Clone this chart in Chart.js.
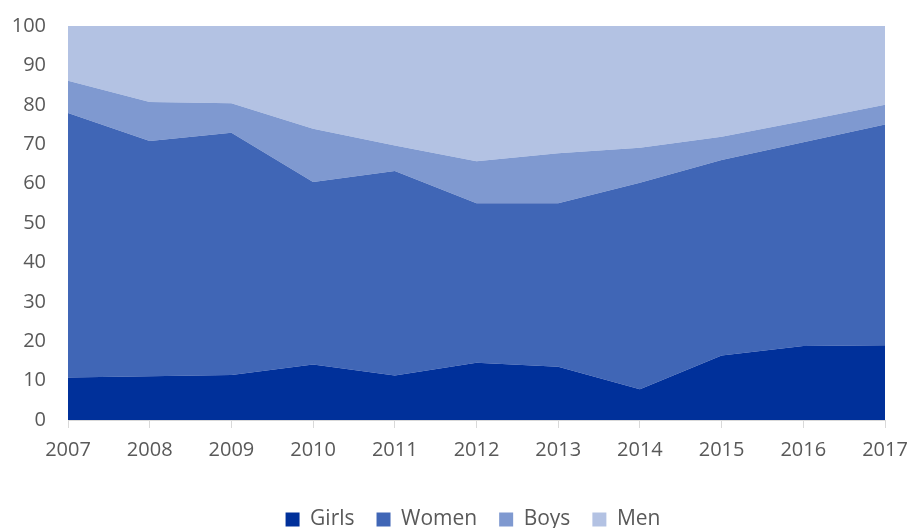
<!DOCTYPE html>
<html>
<head>
<meta charset="utf-8">
<script src="https://cdn.jsdelivr.net/npm/chart.js@4.4.0/dist/chart.umd.min.js"></script>
<style>
  html, body { margin: 0; padding: 0; background: #fff; overflow: hidden; }
  #wrap { width: 912px; height: 540px; }
</style>
</head>
<body>
<div id="wrap"><canvas id="areaChart" width="912" height="540"></canvas></div>
<script>
var years = ['2007', '2008', '2009', '2010', '2011', '2012', '2013', '2014', '2015', '2016', '2017'];
var girls = [10.8, 11.1, 11.4, 14.1, 11.3, 14.5, 13.5, 7.8, 16.4, 18.8, 19.0];
var women = [67.1, 59.7, 61.5, 46.3, 51.9, 40.5, 41.5, 52.4, 49.6, 51.7, 56.0];
var boys = [8.2, 9.9, 7.5, 13.5, 6.5, 10.7, 12.7, 8.9, 5.9, 5.4, 5.0];
var men = [13.9, 19.3, 19.6, 26.1, 30.3, 34.3, 32.3, 30.9, 28.1, 24.1, 20.0];

var textColor = '#595959';
var font = { family: '"Open Sans", sans-serif', size: 20 };

function area(label, data, color, fill) {
  return {
    label: label,
    data: data,
    backgroundColor: color,
    borderColor: color,
    borderWidth: 0,
    pointRadius: 0,
    tension: 0,
    fill: fill
  };
}

// legend sits a little right of centre in the original
var shiftLegend = {
  id: 'shiftLegend',
  afterLayout: function (chart) {
    chart.legend.left += 24;
    chart.legend.right += 24;
  }
};

var ctx = document.getElementById('areaChart');
var areaChart = new Chart(ctx, {
  type: 'line',
  data: {
    labels: years,
    datasets: [
      area('Girls', girls, '#00309a', 'origin'),
      area('Women', women, '#4066b6', '-1'),
      area('Boys', boys, '#7f99d0', '-1'),
      area('Men', men, '#b3c2e3', '-1')
    ]
  },
  options: {
    responsive: false,
    animation: false,
    layout: { padding: { top: 19, right: 27, left: 13, bottom: 0 } },
    scales: {
      x: {
        offset: false,
        grid: { drawOnChartArea: false, color: '#d9d9d9', tickLength: 8 },
        border: { color: '#d9d9d9' },
        ticks: { color: textColor, font: font, padding: 10, maxRotation: 0 },
        afterFit: function (scale) {
          scale.height = 67;
          scale.paddingLeft = 0;
          scale.paddingRight = 0;
        }
      },
      y: {
        stacked: true,
        min: 0,
        max: 100,
        grid: { display: false },
        border: { display: false },
        ticks: { stepSize: 10, color: textColor, font: font, padding: 14 },
        afterFit: function (scale) { scale.width = 55; }
      }
    },
    plugins: {
      legend: {
        position: 'bottom',
        labels: { boxWidth: 14, boxHeight: 14, padding: 22, color: textColor, font: { family: font.family, size: 21 } }
      },
      tooltip: { enabled: false }
    }
  },
  plugins: [shiftLegend]
});
</script>
</body>
</html>
